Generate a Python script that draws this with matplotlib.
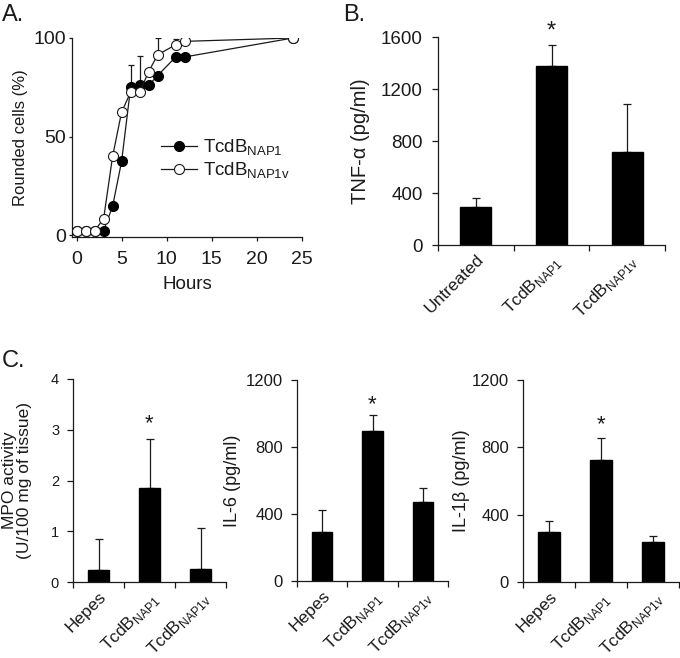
import matplotlib
matplotlib.use("Agg")
import matplotlib.pyplot as plt
import numpy as np

plt.rcParams['font.family'] = ['Liberation Sans', 'DejaVu Sans']
plt.rcParams['mathtext.fontset'] = 'custom'
plt.rcParams['mathtext.rm'] = 'Liberation Sans'
plt.rcParams['text.color'] = '#1a1a1a'
plt.rcParams['axes.labelcolor'] = '#1a1a1a'
plt.rcParams['xtick.color'] = '#1a1a1a'
plt.rcParams['ytick.color'] = '#1a1a1a'

# ---- Panel A data ----
hours = [0, 1, 2, 3, 4, 5, 6, 7, 8, 9, 11, 12, 24]
nap1 = [2.4, 2.4, 2.4, 2.4, 14.7, 37.5, 75, 76, 76, 81, 90.4, 90.4, 100]
nap1v = [2.4, 2.4, 2.4, 8.3, 40, 62.5, 72.5, 72.5, 83, 91.5, 96.6, 98.3, 100]
nap1_err = [0, 0, 0, 0, 0, 0, 11.5, 14.7, 0, 0, 0, 0, 0]
nap1v_err = [0, 0, 0, 0, 0, 0, 0, 0, 0, 8.3, 3.0, 0, 0]

# ---- Panel B data ----
b_cats = ['Untreated', r'TcdB$_{\mathregular{NAP1}}$', r'TcdB$_{\mathregular{NAP1v}}$']
tnf = [294, 1377, 717]
tnf_err = [64, 159, 371]

# ---- Panel C data ----
c_cats = ['Hepes', r'TcdB$_{\mathregular{NAP1}}$', r'TcdB$_{\mathregular{NAP1v}}$']
mpo = [0.24, 1.85, 0.26]
mpo_err = [0.60, 0.96, 0.81]
il6 = [294, 894, 474]
il6_err = [130, 100, 80]
il1b = [295, 726, 239]
il1b_err = [69, 130, 36]

W, H = 680, 658
fig = plt.figure(figsize=(W / 100, H / 100), dpi=100)

def px_axes(l, r, t, b):
    return fig.add_axes([l / W, (H - b) / H, (r - l) / W, (b - t) / H])

def style(ax, tl=4.5, tp=5.5):
    for s in ['top', 'right']:
        ax.spines[s].set_visible(False)
    for s in ['left', 'bottom']:
        ax.spines[s].set_linewidth(0.9)
        ax.spines[s].set_color('#1a1a1a')
    ax.tick_params(direction='out', length=tl, width=0.9, pad=tp)

# ---- Panel A ----
axA = px_axes(72, 302, 38, 237)
style(axA, tl=2.5, tp=1.5)
axA.tick_params(axis='x', length=3, pad=7)
h = np.array(hours)
e1 = np.array(nap1_err); m1 = e1 > 0
e2 = np.array(nap1v_err); m2 = e2 > 0
axA.errorbar(h[m1], np.array(nap1)[m1], yerr=[np.zeros(m1.sum()), e1[m1]], fmt='none',
             ecolor='#1a1a1a', elinewidth=0.9, capsize=2.5, capthick=0.9, zorder=1)
axA.errorbar(h[m2], np.array(nap1v)[m2], yerr=[np.zeros(m2.sum()), e2[m2]], fmt='none',
             ecolor='#1a1a1a', elinewidth=0.9, capsize=2.5, capthick=0.9, zorder=1)
axA.plot(hours, nap1, '-o', color='#1a1a1a', lw=0.9, ms=7.2, mfc='black', mec='black',
         mew=0.8, label=r'TcdB$_{\mathregular{NAP1}}$', zorder=3)
axA.plot(hours, nap1v, '-o', color='#1a1a1a', lw=0.9, ms=7.2, mfc='white', mec='#1a1a1a',
         mew=0.8, label=r'TcdB$_{\mathregular{NAP1v}}$', zorder=4)
axA.set_xlim(-0.5, 25)
axA.set_ylim(-0.8, 100)
axA.spines['left'].set_bounds(-0.8, 100)
axA.set_xticks([0, 5, 10, 15, 20, 25])
axA.set_yticks([0, 50, 100])
axA.tick_params(labelsize=14)
axA.set_xlabel('Hours', fontsize=13.5, labelpad=6)
axA.set_ylabel('Rounded cells (%)', fontsize=12)
axA.yaxis.set_label_coords(-0.19, 0.5)
leg = axA.legend(loc='center left', bbox_to_anchor=(0.315, 0.39), frameon=False,
                 fontsize=13.5, handlelength=1.9, handletextpad=0.3, labelspacing=0.15)
fig.text(2 / W, 1 - 4 / H, 'A.', fontsize=17, va='top', ha='left')

# ---- bar helper ----
def bars(ax, cats, vals, errs, ylim, yticks, ylabel, star_y, tick_fs, star_fs, xl_fs, ylab_x, ylab_fs,
         linesp=1.0, tpad=5.5):
    style(ax, tp=tpad)
    x = np.arange(len(cats))
    ax.bar(x, vals, width=0.41, color='black', edgecolor='black', zorder=2)
    ax.errorbar(x, vals, yerr=[np.zeros(len(vals)), errs], fmt='none', ecolor='#1a1a1a',
                elinewidth=0.9, capsize=3, capthick=0.9, zorder=1)
    ax.set_xlim(-0.5, len(cats) - 0.5)
    ax.set_ylim(*ylim)
    ax.set_yticks(yticks)
    ax.set_xticks(np.arange(len(cats) + 1) - 0.5)
    ax.set_xticklabels([])
    ax.set_xticks(x, minor=True)
    ax.set_xticklabels(cats, minor=True, rotation=45, ha='right', rotation_mode='anchor',
                       fontsize=xl_fs)
    ax.tick_params(axis='x', which='minor', length=0, pad=5)
    ax.tick_params(axis='y', labelsize=tick_fs)
    ax.set_ylabel(ylabel, fontsize=ylab_fs, linespacing=linesp)
    ax.yaxis.set_label_coords(ylab_x, 0.5)
    ax.text(1, star_y, '*', ha='center', va='center', fontsize=star_fs, clip_on=False)

axB = px_axes(438, 665, 37, 245)
bars(axB, b_cats, tnf, tnf_err, (0, 1600), [0, 400, 800, 1200, 1600], 'TNF-α (pg/ml)',
     1640, 13.5, 17, 12.5, -0.3, 14.5, tpad=6.5)
fig.text(343 / W, 1 - 4 / H, 'B.', fontsize=17, va='top', ha='left')

axC1 = px_axes(73, 226, 379, 582)
bars(axC1, c_cats, mpo, mpo_err, (0, 4), [0, 1, 2, 3, 4],
     'MPO activity\n(U/100 mg of tissue)', 3.12, 10.5, 16, 12.5, -0.27, 12.5, linesp=0.95)
fig.text(2 / W, 1 - 350 / H, 'C.', fontsize=17, va='top', ha='left')

axC2 = px_axes(297, 448, 380, 581)
bars(axC2, c_cats, il6, il6_err, (0, 1200), [0, 400, 800, 1200], 'IL-6 (pg/ml)',
     1055, 12, 16, 12.5, -0.37, 13)

axC3 = px_axes(523, 679, 380, 582)
bars(axC3, c_cats, il1b, il1b_err, (0, 1200), [0, 400, 800, 1200], 'IL-1β (pg/ml)',
     935, 12, 16, 12.5, -0.34, 13)

fig.savefig('out.png', dpi=100)
